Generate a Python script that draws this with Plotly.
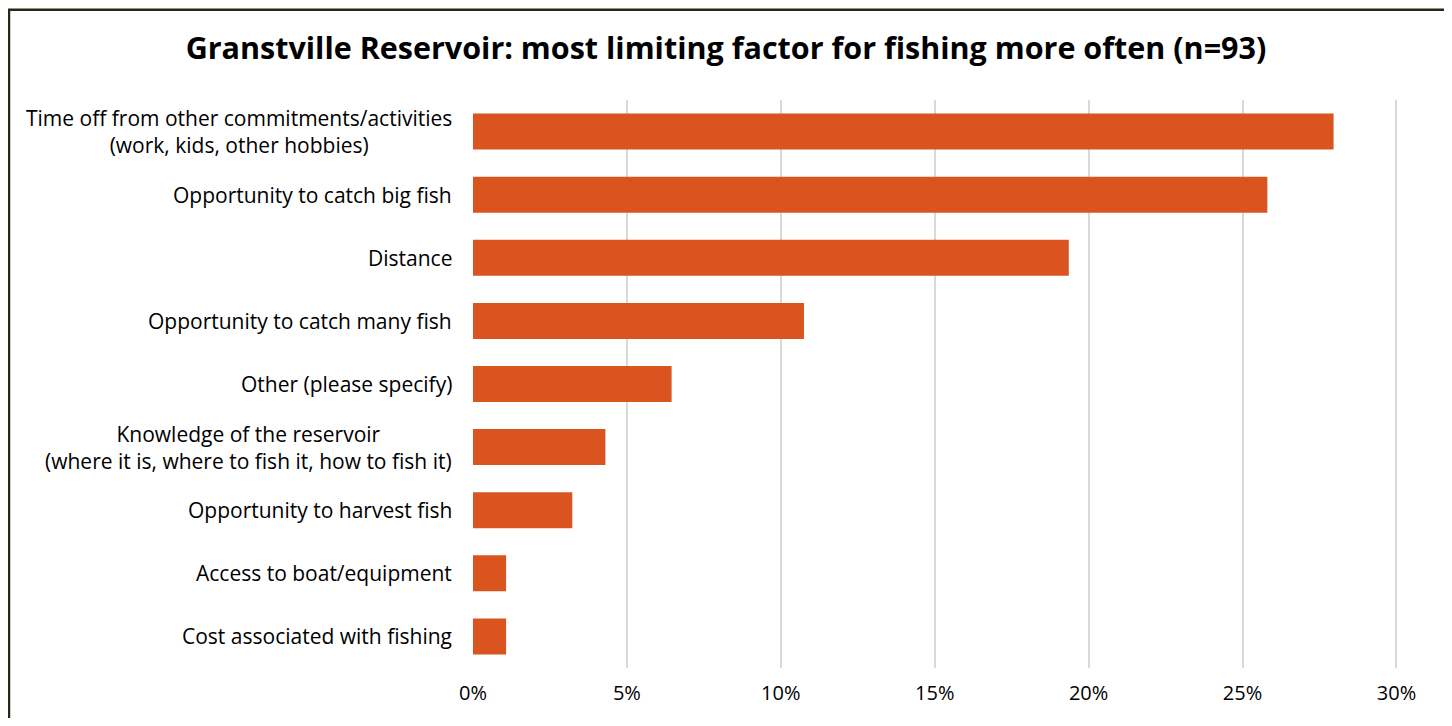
import plotly.graph_objects as go

categories = [
    "Time off from other commitments/activities<br>(work, kids, other hobbies)",
    "Opportunity to catch big fish",
    "Distance",
    "Opportunity to catch many fish",
    "Other (please specify)",
    "Knowledge of the reservoir<br>(where it is, where to fish it, how to fish it)",
    "Opportunity to harvest fish",
    "Access to boat/equipment",
    "Cost associated with fishing",
]
counts = [26, 24, 18, 10, 6, 4, 3, 1, 1]
n_total = 93
values = [c / n_total for c in counts]
tick_vals = [0, 0.05, 0.10, 0.15, 0.20, 0.25, 0.30]
tick_text = ["0%", "5%", "10%", "15%", "20%", "25%", "30%"]

# page has an 8px body margin; figure coordinates are screen minus 8
OFF = 8
W, H = 1444, 710
ML = 473 - OFF
MT = 100 - OFF
MR = W - (1398 - OFF)
MB = H - (672 - OFF)
pw, ph = W - ML - MR, H - MT - MB

FONT = "Open Sans"
fig = go.Figure(go.Bar(
    x=values, y=categories, orientation="h",
    marker=dict(color="#D9541F", line=dict(width=0)),
    width=0.57,
))

for cat in categories:
    fig.add_annotation(x=0, xref="paper", y=cat, yref="y", text=cat,
                       xanchor="right", yanchor="middle", align="center",
                       xshift=-19, showarrow=False,
                       font=dict(family=FONT, size=21, color="#000000"))

def fx(p):  # figure pixel -> paper x
    return (p - ML) / pw

def fy(p):  # figure pixel -> paper y
    return (H - MB - p) / ph

fig.add_shape(type="rect", xref="paper", yref="paper",
              x0=fx(1), x1=fx(1438), y0=fy(H + 40), y1=fy(1),
              line=dict(color="#2B2418", width=2.5), fillcolor="rgba(0,0,0,0)",
              layer="above")

fig.update_layout(
    width=W, height=H,
    margin=dict(l=ML, r=MR, t=MT, b=MB),
    paper_bgcolor="white", plot_bgcolor="white",
    title=dict(text="<b>Granstville Reservoir: most limiting factor for fishing more often (n=93)</b>",
               x=(726 - OFF) / W, xref="container", xanchor="center",
               y=1 - (48 - OFF) / H, yanchor="middle",
               font=dict(family=FONT, size=30.5, color="#000000")),
    xaxis=dict(range=[0, 0.3005], tickvals=tick_vals, ticktext=tick_text,
               showgrid=True, gridcolor="#D9D9D9", gridwidth=2,
               zeroline=False, showline=False, ticks="",
               tickfont=dict(family=FONT, size=20, color="#000000"),
               ticklabelstandoff=11),
    yaxis=dict(autorange="reversed", showticklabels=False, showgrid=False,
               zeroline=False, ticks=""),
    showlegend=False,
)
fig.write_html("out.html")
